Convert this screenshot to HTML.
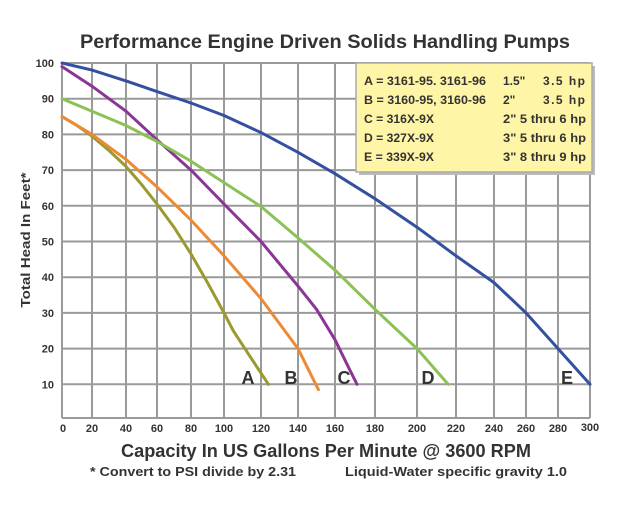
<!DOCTYPE html>
<html><head><meta charset="utf-8"><style>
body{margin:0;background:#fff;}
svg{display:block;font-family:"Liberation Sans",sans-serif;font-weight:bold;}
</style></head><body>
<svg width="625" height="525" viewBox="0 0 625 525" xmlns="http://www.w3.org/2000/svg">
<text x="325" y="48" text-anchor="middle" font-size="19" fill="#333" textLength="490" lengthAdjust="spacingAndGlyphs">Performance Engine Driven Solids Handling Pumps</text>
<g stroke="#9a9a9a" stroke-width="2" fill="none">
<line x1="62" y1="63" x2="62" y2="418"/><line x1="92" y1="63" x2="92" y2="418"/><line x1="126" y1="63" x2="126" y2="418"/><line x1="157" y1="63" x2="157" y2="418"/><line x1="191" y1="63" x2="191" y2="418"/><line x1="224" y1="63" x2="224" y2="418"/><line x1="261" y1="63" x2="261" y2="418"/><line x1="298" y1="63" x2="298" y2="418"/><line x1="335" y1="63" x2="335" y2="418"/><line x1="375" y1="63" x2="375" y2="418"/><line x1="417" y1="63" x2="417" y2="418"/><line x1="456" y1="63" x2="456" y2="418"/><line x1="494" y1="63" x2="494" y2="418"/><line x1="526" y1="63" x2="526" y2="418"/><line x1="558" y1="63" x2="558" y2="418"/><line x1="590" y1="63" x2="590" y2="418"/>
<line x1="62" y1="63" x2="590" y2="63"/><line x1="62" y1="98.7" x2="590" y2="98.7"/><line x1="62" y1="134.4" x2="590" y2="134.4"/><line x1="62" y1="170.1" x2="590" y2="170.1"/><line x1="62" y1="205.8" x2="590" y2="205.8"/><line x1="62" y1="241.5" x2="590" y2="241.5"/><line x1="62" y1="277.2" x2="590" y2="277.2"/><line x1="62" y1="312.9" x2="590" y2="312.9"/><line x1="62" y1="348.6" x2="590" y2="348.6"/><line x1="62" y1="384.3" x2="590" y2="384.3"/><line x1="62" y1="418" x2="590" y2="418"/>
</g>
<g font-size="11" fill="#333" text-anchor="end">
<text x="54" y="67">100</text><text x="54" y="102.7">90</text><text x="54" y="138.4">80</text><text x="54" y="174.1">70</text><text x="54" y="209.8">60</text><text x="54" y="245.5">50</text><text x="54" y="281.2">40</text><text x="54" y="316.9">30</text><text x="54" y="352.6">20</text><text x="54" y="388.3">10</text>
</g>
<g font-size="11" fill="#333" text-anchor="middle">
<text x="63" y="432">0</text><text x="92" y="432">20</text><text x="126" y="432">40</text><text x="157" y="432">60</text><text x="191" y="432">80</text><text x="224" y="432">100</text><text x="261" y="432">120</text><text x="298" y="432">140</text><text x="335" y="432">160</text><text x="375" y="432">180</text><text x="417" y="432">200</text><text x="456" y="432">220</text><text x="494" y="432">240</text><text x="526" y="432">260</text><text x="558" y="432">280</text><text x="590" y="431">300</text>
</g>
<g fill="none" stroke-width="3" stroke-linecap="round" stroke-linejoin="round">
<polyline stroke="#9a9a2e" points="62,116.6 77,125.5 92,136.2 109,150.5 126,166.5 141.5,184.4 157,204 174,227.2 191,254 207.5,282.6 224,312.9 233.3,330.8 251.8,359.2 268.4,384.3"/>
<polyline stroke="#ec8a35" points="62,116.6 92,134.4 126,159.4 157,186.9 191,220.1 224,255.8 261,298.6 298,348.6 318.4,389.7"/>
<polyline stroke="#8b3696" points="62,66.6 92,86.2 126,111.2 157,139.8 191,170.1 224,204 261,241.5 298,286.1 316.5,309.3 335,339.7 349,368.3 357,384.3"/>
<polyline stroke="#8bc155" points="62,98.7 92,111.2 126,125.5 157,141.5 191,161.2 224,182.6 261,206.5 298,237.9 335,270.1 375,309.3 417,348.6 448.2,384.3"/>
<polyline stroke="#33519e" points="62,63 92,70.1 126,80.9 157,91.6 191,103 224,115.5 261,132.6 298,152.3 335,173.7 375,198.7 417,227.2 456,255.8 494,282.6 526,312.9 558,348.6 590,384.3"/>
</g>
<rect x="359" y="66" width="236" height="109" fill="#bbb"/>
<rect x="356" y="63" width="236" height="109" fill="#fff5a6" stroke="#aaa" stroke-width="1.5"/>
<g font-size="12" fill="#333">
<text x="364" y="85" textLength="122" lengthAdjust="spacingAndGlyphs">A = 3161-95. 3161-96</text><text x="503" y="85">1.5"</text><text x="543" y="85" textLength="42" lengthAdjust="spacing">3.5  hp</text>
<text x="364" y="104" textLength="122" lengthAdjust="spacingAndGlyphs">B = 3160-95, 3160-96</text><text x="503" y="104">2"</text><text x="543" y="104" textLength="42" lengthAdjust="spacing">3.5  hp</text>
<text x="364" y="123" textLength="70" lengthAdjust="spacingAndGlyphs">C = 316X-9X</text><text x="503" y="123" textLength="83" lengthAdjust="spacingAndGlyphs">2"  5  thru 6 hp</text>
<text x="364" y="142" textLength="70" lengthAdjust="spacingAndGlyphs">D = 327X-9X</text><text x="503" y="142" textLength="83" lengthAdjust="spacingAndGlyphs">3"  5  thru 6 hp</text>
<text x="364" y="161" textLength="70" lengthAdjust="spacingAndGlyphs">E = 339X-9X</text><text x="503" y="161" textLength="83" lengthAdjust="spacingAndGlyphs">3"  8  thru 9 hp</text>
</g>
<g font-size="18" fill="#333" text-anchor="middle">
<text x="248" y="384">A</text><text x="291" y="384">B</text><text x="344" y="384">C</text><text x="428" y="384">D</text><text x="567" y="384">E</text>
</g>
<text x="30" y="240" transform="rotate(-90 30 240)" text-anchor="middle" font-size="13" fill="#333" textLength="135" lengthAdjust="spacingAndGlyphs">Total Head In Feet*</text>
<text x="326" y="457" text-anchor="middle" font-size="18" fill="#333" textLength="410" lengthAdjust="spacingAndGlyphs">Capacity In US Gallons Per Minute @ 3600 RPM</text>
<text x="90" y="476" font-size="13" fill="#333" textLength="206" lengthAdjust="spacingAndGlyphs">* Convert to PSI divide by 2.31</text>
<text x="345" y="476" font-size="13" fill="#333" textLength="222" lengthAdjust="spacingAndGlyphs">Liquid-Water specific gravity 1.0</text>
</svg>
</body></html>
